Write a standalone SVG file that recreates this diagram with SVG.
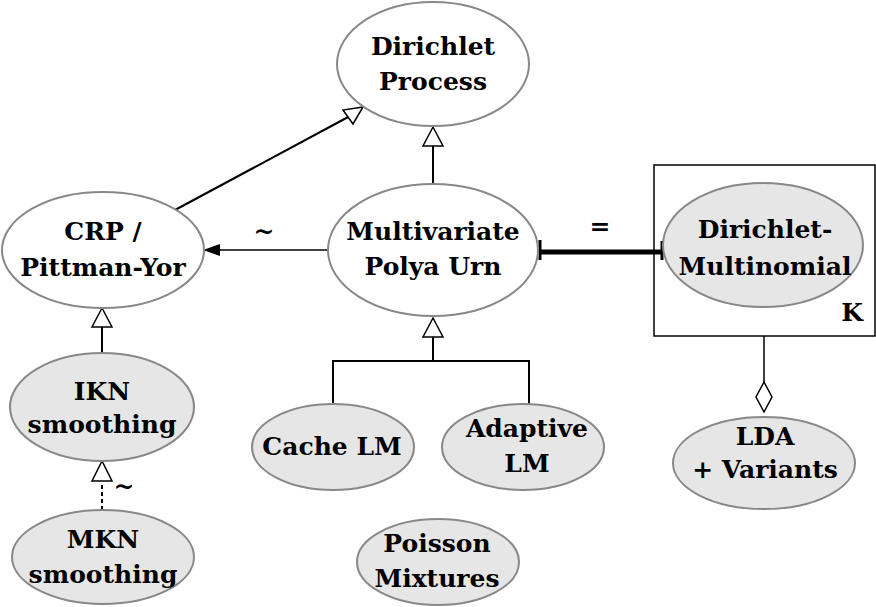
<svg xmlns="http://www.w3.org/2000/svg" width="876" height="607" viewBox="0 0 876 607">
<style>
.n{stroke:#888;stroke-width:2;fill:#fff}
.g{fill:#e6e6e6}
.t{font-family:"DejaVu Serif",serif;font-weight:bold;font-size:25px;fill:#000;text-anchor:middle}
.c{stroke:#000;stroke-width:2;fill:none}
.h{fill:#fff;stroke:#000;stroke-width:1.5}
</style>
<rect width="876" height="607" fill="#fff"/>
<g id="connectors">
  <line class="c" x1="175" y1="210" x2="350" y2="116"/>
  <polygon class="h" points="363,107 343,110 353,124"/>
  <line class="c" x1="433" y1="184" x2="433" y2="146"/>
  <polygon class="h" points="433,127 423,146 443,146"/>
  <line stroke="#000" stroke-width="1.5" x1="328" y1="250" x2="218" y2="250"/>
  <polygon fill="#000" points="203,250 220,244 220,256"/>
  <text class="t" x="264" y="239">~</text>
  <line stroke="#000" stroke-width="5" x1="541" y1="252" x2="662" y2="252"/>
  <line stroke="#000" stroke-width="3" x1="540" y1="240" x2="540" y2="260"/>
  <line stroke="#000" stroke-width="3" x1="662" y1="241" x2="662" y2="260"/>
  <text class="t" x="600" y="235">=</text>
  <polyline class="c" points="333,404 333,361 529,361 529,404"/>
  <line class="c" x1="433" y1="361" x2="433" y2="337"/>
  <polygon class="h" points="433,318 423,337 443,337"/>
  <line class="c" x1="102" y1="353" x2="102" y2="327"/>
  <polygon class="h" points="102,308 92,327 112,327"/>
  <line stroke="#000" stroke-width="2" stroke-dasharray="4,3" x1="102" y1="510" x2="102" y2="482"/>
  <polygon class="h" points="102,461 92,481 112,481"/>
  <text class="t" x="124" y="494" font-size="22">~</text>
  <line stroke="#000" stroke-width="1.5" x1="764" y1="336" x2="764" y2="382"/>
  <polygon class="h" points="764,382 756,397 764,412 772,397"/>
</g>
<g id="dirichlet-process">
  <ellipse class="n" cx="433" cy="64" rx="96" ry="62"/>
  <text class="t" x="433" y="55">Dirichlet</text>
  <text class="t" x="433" y="90">Process</text>
</g>
<g id="crp">
  <ellipse class="n" cx="103" cy="250" rx="101" ry="58"/>
  <text class="t" x="103" y="240">CRP /</text>
  <text class="t" x="103" y="276">Pittman-Yor</text>
</g>
<g id="polya-urn">
  <ellipse class="n" cx="433" cy="250" rx="105" ry="66"/>
  <text class="t" x="433" y="240">Multivariate</text>
  <text class="t" x="433" y="275">Polya Urn</text>
</g>
<g id="dirichlet-multinomial">
  <rect x="654" y="165" width="221" height="171" fill="none" stroke="#000" stroke-width="1.5"/>
  <ellipse class="n g" cx="763" cy="245" rx="100" ry="62"/>
  <text class="t" x="765" y="238">Dirichlet-</text>
  <text class="t" x="765" y="275">Multinomial</text>
  <text class="t" x="852" y="321" font-size="22">K</text>
</g>
<g id="ikn">
  <ellipse class="n g" cx="102" cy="407" rx="92" ry="54"/>
  <text class="t" x="102" y="400">IKN</text>
  <text class="t" x="102" y="433">smoothing</text>
</g>
<g id="mkn">
  <ellipse class="n g" cx="103" cy="557" rx="91" ry="47"/>
  <text class="t" x="103" y="548">MKN</text>
  <text class="t" x="103" y="583">smoothing</text>
</g>
<g id="cache-lm">
  <ellipse class="n g" cx="333" cy="447" rx="81" ry="43"/>
  <text class="t" x="332" y="455">Cache LM</text>
</g>
<g id="adaptive-lm">
  <ellipse class="n g" cx="523" cy="447" rx="81" ry="43"/>
  <text class="t" x="527" y="437">Adaptive</text>
  <text class="t" x="527" y="472">LM</text>
</g>
<g id="poisson">
  <ellipse class="n g" cx="438" cy="562" rx="81" ry="43"/>
  <text class="t" x="437" y="552">Poisson</text>
  <text class="t" x="437" y="587">Mixtures</text>
</g>
<g id="lda">
  <ellipse class="n g" cx="764" cy="463" rx="91" ry="46"/>
  <text class="t" x="765" y="445">LDA</text>
  <text class="t" x="765" y="478">+ Variants</text>
</g>
</svg>
